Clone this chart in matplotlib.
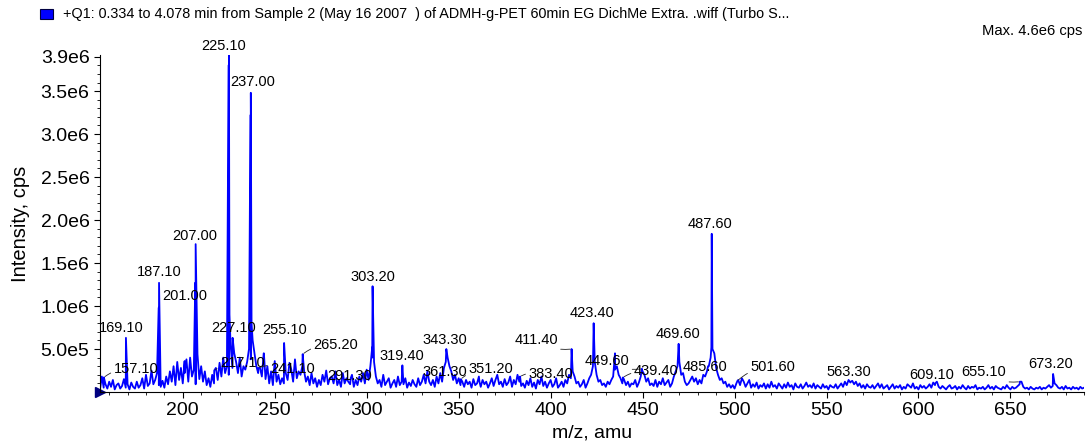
import matplotlib
matplotlib.use("Agg")
import matplotlib.pyplot as plt
import numpy as np
from matplotlib.patches import Rectangle
from matplotlib.ticker import MultipleLocator, FixedLocator

plt.rcParams['font.family'] = ['Liberation Sans', 'DejaVu Sans']

# background profile, one value per amu from 155 to 690, units of 1e4 cps
bg_start = 155
bg_values = [
    3, 18, 5, 9, 4, 12, 6, 14, 3, 8,
    10, 4, 7, 15, 5, 9, 3, 11, 6, 4,
    12, 5, 8, 16, 4, 20, 7, 10, 25, 9,
    14, 22, 8, 6, 13, 5, 18, 9, 24, 12,
    30, 8, 35, 14, 28, 10, 22, 38, 12, 40,
    18, 26, 9, 44, 15, 30, 12, 24, 8, 16,
    6, 20, 10, 28, 14, 34, 18, 40, 22, 30,
    20, 55, 28, 45, 35, 22, 40, 18, 30, 26,
    35, 50, 38, 60, 45, 30, 22, 28, 18, 45,
    15, 30, 10, 24, 8, 36, 12, 20, 9, 16,
    10, 22, 14, 34, 26, 12, 38, 16, 24, 20,
    30, 24, 12, 18, 8, 22, 10, 16, 6, 14,
    8, 20, 12, 25, 9, 16, 18, 10, 24, 8,
    14, 6, 22, 10, 16, 12, 9, 20, 6, 14,
    8, 18, 12, 22, 10, 26, 14, 30, 40, 35,
    18, 10, 14, 6, 20, 8, 12, 16, 5, 10,
    14, 6, 18, 8, 12, 9, 16, 5, 11, 7,
    14, 9, 6, 16, 8, 12, 20, 10, 24, 12,
    8, 14, 6, 18, 10, 22, 12, 28, 35, 40,
    30, 24, 14, 20, 10, 16, 8, 12, 6, 14,
    9, 12, 5, 15, 8, 10, 18, 6, 14, 9,
    12, 5, 10, 16, 7, 14, 20, 9, 12, 6,
    15, 8, 11, 18, 6, 14, 9, 20, 12, 7,
    10, 5, 13, 8, 16, 6, 11, 4, 14, 9,
    18, 7, 12, 5, 10, 14, 6, 9, 16, 5,
    8, 12, 6, 14, 10, 20, 16, 24, 18, 10,
    12, 6, 9, 14, 5, 10, 16, 20, 30, 35,
    20, 12, 14, 8, 10, 6, 12, 9, 14, 18,
    26, 30, 20, 16, 10, 14, 8, 12, 6, 10,
    9, 14, 6, 11, 18, 24, 20, 12, 16, 8,
    10, 7, 14, 6, 12, 9, 16, 8, 11, 14,
    6, 10, 18, 24, 30, 35, 20, 22, 12, 8,
    10, 14, 18, 12, 16, 9, 14, 10, 20, 18,
    24, 30, 40, 50, 45, 28, 20, 14, 16, 10,
    12, 6, 9, 5, 8, 4, 10, 14, 8, 16,
    12, 6, 10, 14, 5, 9, 6, 11, 4, 8,
    6, 10, 4, 9, 5, 12, 6, 8, 4, 10,
    7, 4, 9, 5, 11, 6, 8, 3, 10, 6,
    5, 9, 4, 7, 11, 6, 8, 5, 10, 4,
    8, 6, 4, 9, 5, 7, 3, 8, 6, 5,
    9, 4, 7, 10, 6, 12, 8, 14, 11, 13,
    9, 12, 7, 10, 5, 8, 4, 9, 6, 5,
    8, 4, 7, 10, 5, 9, 4, 6, 8, 3,
    6, 9, 4, 7, 5, 8, 3, 6, 4, 9,
    7, 5, 10, 4, 6, 3, 8, 5, 7, 4,
    6, 9, 5, 11, 8, 12, 6, 4, 7, 5,
    3, 6, 8, 4, 5, 7, 3, 6, 4, 8,
    5, 3, 7, 4, 6, 5, 8, 3, 5, 4,
    6, 3, 5, 8, 4, 6, 3, 7, 5, 4,
    3, 6, 4, 8, 5, 3, 6, 4, 5, 7,
    9, 12, 6, 4, 5, 3, 6, 4, 3, 5,
    4, 6, 3, 5, 4, 6, 8, 5, 7, 10,
    8, 5, 4, 6, 3, 7, 4, 5, 3, 6,
    4, 5, 3, 6, 4, 5,
]

# main peaks, intensity in 1e6 cps
peak_mz = [157.1, 169.1, 186.9, 187.1, 201.0, 206.8, 207.0, 217.1, 224.9, 225.1,
           225.4, 227.1, 236.8, 237.0, 237.4, 241.1, 244.1, 255.1, 265.2, 291.3,
           303.0, 303.2, 319.4, 343.3, 351.2, 361.3, 383.4, 411.4, 423.2, 423.4,
           435.0, 439.4, 449.6, 469.6, 485.6, 487.4, 487.6, 501.6, 563.3, 609.1,
           655.1, 673.2]
peak_int = [0.17, 0.63, 0.98, 1.27, 0.36, 1.27, 1.72, 0.25, 3.80, 3.92,
            0.90, 0.63, 3.22, 3.48, 0.80, 0.28, 0.45, 0.57, 0.44, 0.16,
            0.52, 1.23, 0.31, 0.50, 0.15, 0.12, 0.18, 0.50, 0.55, 0.80,
            0.45, 0.17, 0.27, 0.56, 0.30, 0.52, 1.84, 0.13, 0.12, 0.10,
            0.12, 0.21]

# peak labels: text, position of the text (m/z, 1e6 cps), leader line or not
label_text = ['157.10', '169.10', '187.10', '201.00', '207.00', '225.10', '227.10',
              '237.00', '217.10', '241.10', '255.10', '265.20', '291.30', '303.20',
              '319.40', '343.30', '361.30', '351.20', '383.40', '411.40', '423.40',
              '449.60', '439.40', '469.60', '487.60', '485.60', '501.60', '563.30',
              '609.10', '655.10', '673.20']
label_x = [174.5, 166.8, 187.2, 201.1, 206.5, 222.3, 227.4,
           237.8, 232.3, 259.5, 255.2, 283.2, 290.8, 303.3,
           319.0, 342.7, 342.4, 367.4, 400.0, 392.1, 422.6,
           430.7, 457.3, 469.3, 486.7, 484.2, 520.7, 562.2,
           607.3, 635.6, 671.7]
label_y = [0.273, 0.75, 1.40, 1.12, 1.82, 4.03, 0.74,
           3.61, 0.34, 0.27, 0.72, 0.55, 0.19, 1.34,
           0.42, 0.61, 0.23, 0.27, 0.215, 0.61, 0.92,
           0.366, 0.24, 0.68, 1.96, 0.29, 0.29, 0.23,
           0.20, 0.23, 0.33]
leader = ['157.10', '217.10', '241.10', '265.20', '351.20', '383.40', '411.40',
          '449.60', '439.40', '501.60', '655.10']

bg_mz = np.arange(bg_start, bg_start + len(bg_values))
mz = np.concatenate([bg_mz, peak_mz])
inten = np.concatenate([np.array(bg_values) * 1e4, np.array(peak_int) * 1e6])
order = np.argsort(mz)

fig = plt.figure(figsize=(10.86, 4.44), dpi=100)
ax = fig.add_axes([100 / 1086, 52 / 444, 984 / 1086, 337 / 444])
ax.plot(mz[order], inten[order], color='#0000ff', lw=1.3)

ax.set_xlim(155, 690)
ax.set_ylim(0, 3.92e6)
for s in ['top', 'right']:
    ax.spines[s].set_visible(False)
ax.plot([155], [0], marker='>', color='#000080', ms=7, clip_on=False)

yt = [5e5, 1e6, 1.5e6, 2e6, 2.5e6, 3e6, 3.5e6, 3.9e6]
ax.yaxis.set_major_locator(FixedLocator(yt))
ax.set_yticklabels(['5.0e5', '1.0e6', '1.5e6', '2.0e6', '2.5e6', '3.0e6', '3.5e6', '3.9e6'])
ax.yaxis.set_minor_locator(MultipleLocator(1e5))
ax.xaxis.set_major_locator(MultipleLocator(50))
ax.xaxis.set_minor_locator(MultipleLocator(10))
ax.tick_params(axis='both', which='major', labelsize=14, length=4, width=0.8)
ax.tick_params(axis='both', which='minor', length=2, width=0.6)
ax.set_ylabel('Intensity, cps', fontsize=14.5, labelpad=8)
ax.set_xlabel('m/z, amu', fontsize=14, labelpad=4)

for txt, lx, ly in zip(label_text, label_x, label_y):
    if txt in leader:
        target = float(txt)
        ty = peak_int[peak_mz.index(target)] * 1e6 if target in peak_mz else 0.1e6
        ax.annotate(txt, xy=(target, ty), xytext=(lx, ly * 1e6), fontsize=10.5,
                    ha='center', va='center', annotation_clip=False,
                    arrowprops=dict(arrowstyle='-', lw=0.6, color='#222222',
                                    connectionstyle='arc3,rad=0.2', shrinkA=0, shrinkB=1))
    else:
        ax.text(lx, ly * 1e6, txt, fontsize=10.5, ha='center', va='center', clip_on=False)

fig.add_artist(Rectangle((40 / 1086, 1 - 19 / 444), 13 / 1086, 10 / 444,
                         transform=fig.transFigure, facecolor='#0000ff', edgecolor='#000040', lw=0.8))
fig.text(63 / 1086, 1 - 14 / 444,
         '+Q1: 0.334 to 4.078 min from Sample 2 (May 16 2007  ) of ADMH-g-PET 60min EG DichMe Extra. .wiff (Turbo S...',
         fontsize=10.4, va='center', ha='left')
fig.text(1082 / 1086, 1 - 31 / 444, 'Max. 4.6e6 cps', fontsize=10.6, va='center', ha='right')

fig.savefig('out.png', dpi=100)
